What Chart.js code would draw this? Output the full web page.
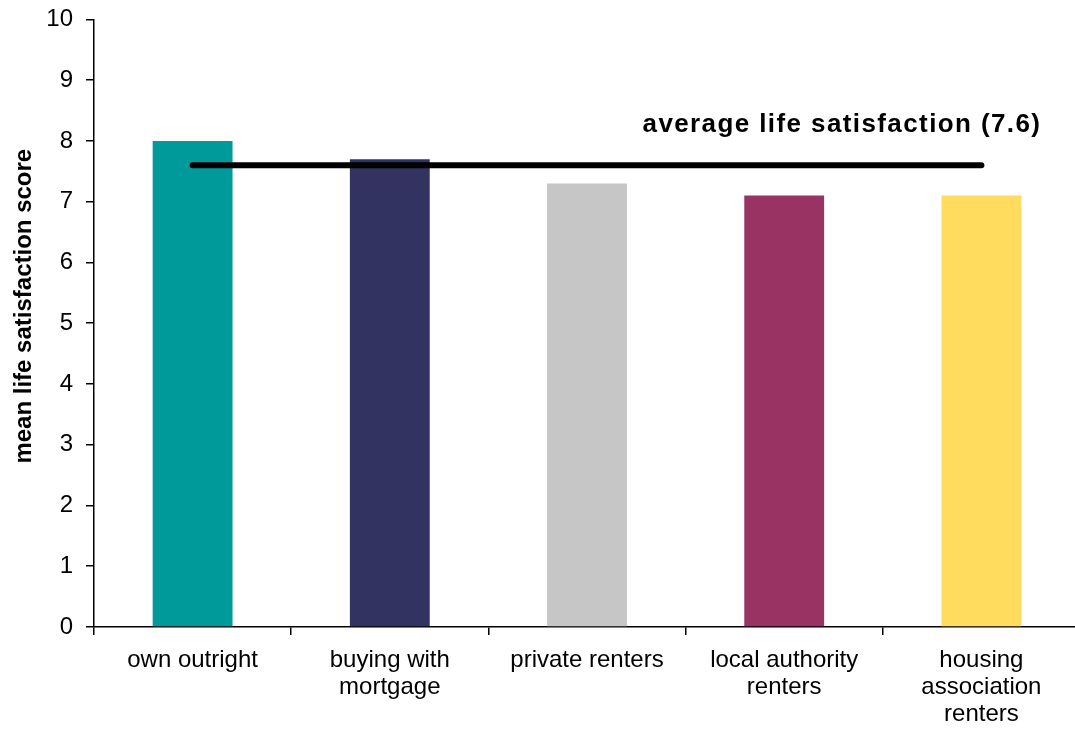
<!DOCTYPE html>
<html>
<head>
<meta charset="utf-8">
<script src="https://cdn.jsdelivr.net/npm/chart.js@4/dist/chart.umd.min.js"></script>
<style>
  html, body { margin: 0; padding: 0; background: #fff; overflow: hidden; }
  #wrap { width: 1085px; height: 737px; position: relative; top: -8px; }
</style>
</head>
<body>
<div id="wrap"><canvas id="c"></canvas></div>
<script>
// Housing tenure groups and their mean life satisfaction
const categories = [
  ['own outright'],
  ['buying with', 'mortgage'],
  ['private renters'],
  ['local authority', 'renters'],
  ['housing', 'association', 'renters']
];
const scores = [8.0, 7.7, 7.3, 7.1, 7.1];
const barColors = ['#009A9A', '#333361', '#C6C6C6', '#993364', '#FFDB5E'];
const averageScore = 7.6;
const yTicks = [0, 1, 2, 3, 4, 5, 6, 7, 8, 9, 10];
const yTitle = 'mean life satisfaction score';

const FONT = 'Arial, "Liberation Sans", Helvetica, sans-serif';

// Caption above the average line and the rotated value-axis title
const annotations = {
  id: 'annotations',
  afterDatasetsDraw(chart) {
    const { ctx, chartArea, scales: { x, y } } = chart;
    ctx.save();
    ctx.font = 'bold 26px ' + FONT;
    ctx.letterSpacing = '1.4px';
    ctx.fillStyle = '#000';
    ctx.textAlign = 'right';
    ctx.textBaseline = 'alphabetic';
    ctx.fillText('average life satisfaction (' + averageScore.toFixed(1) + ')',
      x.getPixelForValue(categories.length - 1) + 60,
      y.getPixelForValue(averageScore) - 33);
    ctx.restore();

    ctx.save();
    ctx.font = 'bold 24px ' + FONT;
    ctx.fillStyle = '#000';
    ctx.textAlign = 'center';
    ctx.textBaseline = 'alphabetic';
    ctx.translate(y.left + 31, (chartArea.top + chartArea.bottom) / 2 - 17);
    ctx.rotate(-Math.PI / 2);
    ctx.fillText(yTitle, 0, 0);
    ctx.restore();
  }
};

new Chart(document.getElementById('c'), {
  type: 'bar',
  data: {
    labels: categories,
    datasets: [
      {
        type: 'line',
        data: categories.map(() => averageScore),
        borderColor: '#000',
        borderWidth: 6,
        borderCapStyle: 'round',
        pointRadius: 0,
        fill: false,
        order: 0
      },
      {
        data: scores,
        backgroundColor: barColors,
        borderWidth: 0,
        barPercentage: 0.405,
        categoryPercentage: 1,
        order: 1
      }
    ]
  },
  options: {
    responsive: true,
    maintainAspectRatio: false,
    animation: false,
    layout: { padding: { top: 13, right: 5, bottom: 0, left: 0 } },
    plugins: { legend: { display: false }, tooltip: { enabled: false } },
    scales: {
      x: {
        offset: true,
        grid: {
          offset: true,
          drawOnChartArea: false,
          drawTicks: true,
          tickLength: 8,
          color: '#000',
          lineWidth: 1.5
        },
        border: { display: true, color: '#000', width: 1.5 },
        ticks: {
          color: '#000',
          font: { family: FONT, size: 24, lineHeight: 1.125 },
          padding: 12,
          maxRotation: 0,
          autoSkip: false
        },
        afterFit(scale) { scale.height = 102; }
      },
      y: {
        min: 0,
        max: 10,
        afterBuildTicks(scale) { scale.ticks = yTicks.map(v => ({ value: v })); },
        grid: {
          drawOnChartArea: false,
          drawTicks: true,
          tickLength: 8,
          color: '#000',
          lineWidth: 1.5
        },
        border: { display: true, color: '#000', width: 1.5 },
        ticks: {
          color: '#000',
          font: { family: FONT, size: 24 },
          padding: 13
        },
        afterFit(scale) { scale.width = 94; }
      }
    }
  },
  plugins: [annotations]
});
</script>
</body>
</html>
